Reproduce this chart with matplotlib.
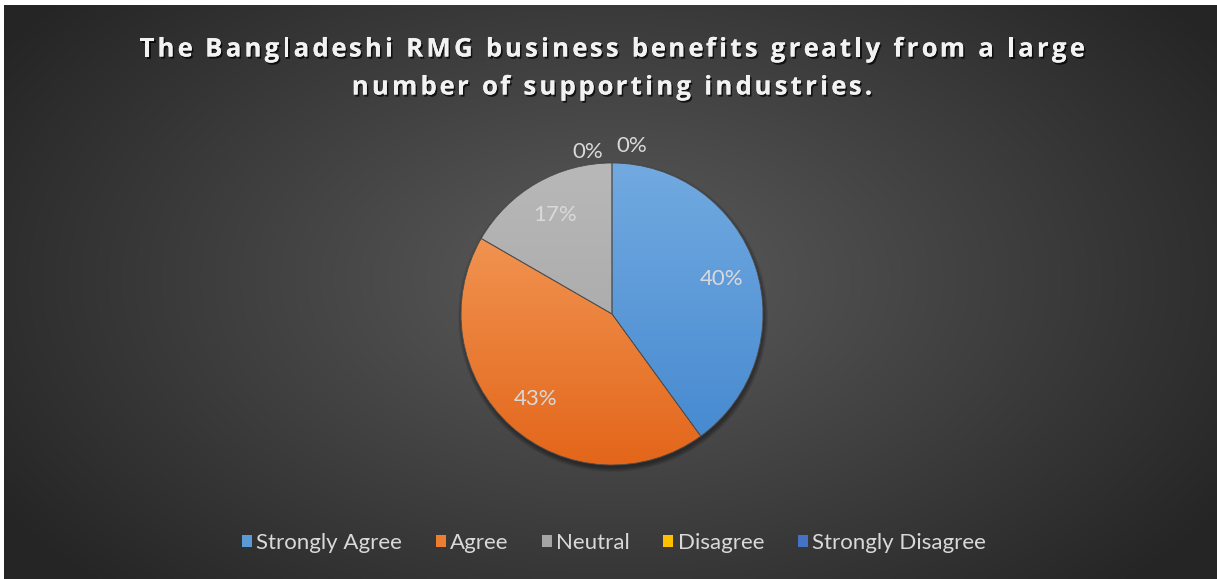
import numpy as np
import matplotlib.pyplot as plt
from matplotlib.patches import Wedge, Circle, Patch
from matplotlib.colors import to_rgb
from matplotlib.font_manager import FontProperties
import matplotlib.patheffects as pe

# survey answers (30 respondents)
categories = ['Strongly Agree', 'Agree', 'Neutral', 'Disagree', 'Strongly Disagree']
counts = [12, 13, 5, 0, 0]
title_lines = ['The Bangladeshi RMG business benefits greatly from a large',
               'number of supporting industries.']

# top / bottom colours of each slice gradient
top_cols = ['#72aae0', '#f5a263', '#b8b8b8', '#ffc000', '#4472c4']
bot_cols = ['#4387cf', '#e3661a', '#a2a2a2', '#ffc000', '#4472c4']
legend_cols = ['#5b9bd5', '#ed7d31', '#a5a5a5', '#ffc000', '#4472c4']

W, H = 1217, 579
fig = plt.figure(figsize=(W / 100, H / 100), dpi=100)
fig.patch.set_facecolor('white')

ax = fig.add_axes([0, 0, 1, 1])
ax.set_xlim(0, W)
ax.set_ylim(0, H)
ax.axis('off')

# radial gradient background of the chart area
x0, y0 = 4, 0
x1, y1 = W, H - 5
xx, yy = np.meshgrid(np.linspace(x0, x1, 400), np.linspace(y0, y1, 200))
rr = np.sqrt(((xx - 612) / 730) ** 2 + ((yy - 300) / 440) ** 2)
t = np.clip(rr, 0, 1)[..., None]
c_in = np.array(to_rgb('#5c5c5c'))
c_out = np.array(to_rgb('#252525'))
bg = c_in * (1 - t) + c_out * t
ax.imshow(bg, extent=[x0, x1, y0, y1], origin='lower', aspect='auto', zorder=0)

cx, cy, R = 612, H - 314, 151

# soft shadow under the pie
for k in range(8):
    ax.add_patch(Circle((cx + 1, cy - 3), R + 4 - k * 0.6, color='black',
                        alpha=0.05, lw=0, zorder=1))

fracs = np.array(counts) / sum(counts)
start = 90.0
mids = []
for i, f in enumerate(fracs):
    end = start - 360 * f
    mids.append(np.deg2rad((start + end) / 2))
    if f > 0:
        w = Wedge((cx, cy), R, end, start, lw=0.6, edgecolor='#4d4d4d',
                  facecolor='none', zorder=3)
        ax.add_patch(w)
        g = np.linspace(0, 1, 200)[:, None, None]
        col = np.array(to_rgb(bot_cols[i])) * (1 - g) + np.array(to_rgb(top_cols[i])) * g
        col = np.repeat(col, 2, axis=1)
        im = ax.imshow(col, extent=[cx - R, cx + R, cy - R, cy + R], origin='lower',
                       aspect='auto', zorder=2)
        im.set_clip_path(w)
    start = end

# percentage labels
lab_font = dict(family='Lato', fontsize=16, color='#d9d9d9', ha='center', va='center')
zero_shift = {3: (-24, 11), 4: (20, 17)}
for i, f in enumerate(fracs):
    txt = '{:.0f}%'.format(f * 100)
    if f > 0:
        ax.text(cx + 0.76 * R * np.cos(mids[i]), cy + 0.76 * R * np.sin(mids[i]), txt,
                zorder=5, **lab_font)
    else:
        dx, dy = zero_shift[i]
        ax.text(cx + R * np.cos(mids[i]) + dx, cy + R * np.sin(mids[i]) + dy, txt,
                zorder=5, **lab_font)

# title, drawn letter by letter to get the wide tracking
renderer = fig.canvas.get_renderer()
tprop = FontProperties(family='Open Sans', weight='bold', size=18.5)
shadow = [pe.withSimplePatchShadow(offset=(1.2, -1.5), shadow_rgbFace='black', alpha=0.7),
          pe.Normal()]


def adv(c):
    wa = renderer.get_text_width_height_descent('x' + c + 'x', tprop, ismath=False)[0]
    wb = renderer.get_text_width_height_descent('xx', tprop, ismath=False)[0]
    return wa - wb


track = 3.25
for line, ty in zip(title_lines, [H - 49, H - 87]):
    widths = [adv(c) for c in line]
    total = sum(widths) + track * (len(line) - 1)
    xpos = 612 - total / 2
    for c, wc in zip(line, widths):
        if c != ' ':
            ax.text(xpos, ty, c, ha='left', va='center', fontproperties=tprop,
                    color='#f2f2f2', zorder=5, path_effects=shadow)
        xpos += wc + track

handles = [Patch(facecolor=c, edgecolor='none') for c in legend_cols]
leg = ax.legend(handles, categories, loc='center', bbox_to_anchor=(614 / W, 1 - 543 / H),
                bbox_transform=fig.transFigure, ncol=5, frameon=False,
                handlelength=0.45, handleheight=0.45, handletextpad=0.2,
                columnspacing=1.5, prop={'family': 'Lato', 'size': 16})
for txt in leg.get_texts():
    txt.set_color('#d9d9d9')

fig.savefig('out.png', dpi=100, facecolor='white')
